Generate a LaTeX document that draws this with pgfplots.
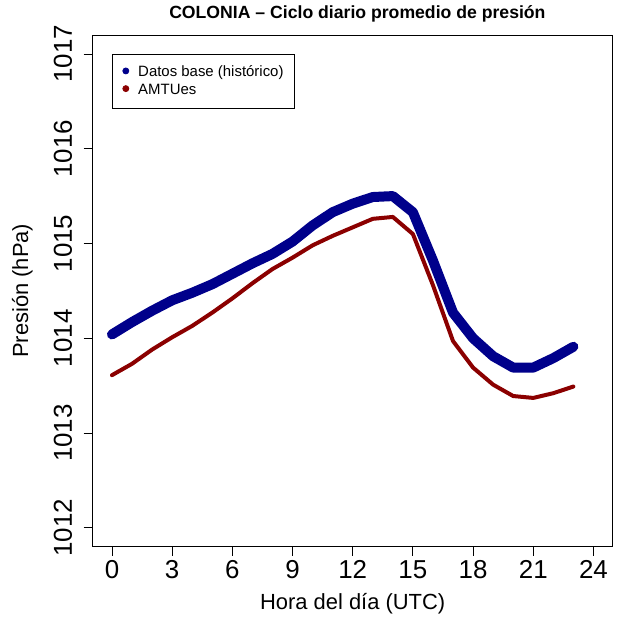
\documentclass[border=0pt]{standalone}
\usepackage{pgfplots}
\pgfplotsset{compat=1.18}
\usepackage{fontspec}
\setmainfont{Liberation Sans}
\definecolor{rblue}{HTML}{00008B}
\definecolor{rred}{HTML}{8B0000}
\begin{document}
\begin{tikzpicture}
\begin{axis}[
  scale only axis, width=520bp, height=511.7bp,
  xmin=-0.96, xmax=24.96, ymin=1011.8, ymax=1017.2,
  xtick={0,3,...,24}, ytick={1012,1013,...,1017},
  /pgf/number format/assume math mode=true,
  /pgf/number format/1000 sep={},
  tick align=outside, xtick pos=bottom, ytick pos=left,
  major tick length=9bp,
  axis line style={line width=0.8bp},
  every tick/.style={line width=0.8bp, black},
  ticklabel style={font=\fontsize{26}{30}\selectfont},
  yticklabel style={rotate=90, anchor=base},
  xticklabel style={anchor=base},
  yticklabel shift=11.7bp,
  xticklabel shift=23.3bp,
  title={\bfseries COLONIA -- Ciclo diario promedio de presión},
  title style={font=\fontsize{17.7}{21}\selectfont, at={(axis description cs:0.509,1.0215)}, anchor=base},
  xlabel={Hora del día (UTC)},
  ylabel={Presión (hPa)},
  label style={font=\fontsize{22}{26}\selectfont},
  xlabel style={at={(axis description cs:0.5,-0.1218)}, anchor=base},
  ylabel style={at={(axis description cs:-0.1244,0.5)}, anchor=base},
  legend style={at={(axis description cs:0.0362,0.9628)}, anchor=north west,
    draw=black, line width=0.8bp, font=\fontsize{15}{18}\selectfont,
    inner xsep=10.5bp, inner ysep=11bp,
    nodes={inner sep=0pt, text height=11bp, text depth=3bp},
    row sep=3.7bp,
    /tikz/every odd column/.append style={column sep=9bp}},
  legend cell align=left,
]
\addlegendimage{legend image code/.code={\fill[rblue] (3bp,1.5bp) circle (3bp);}}
\addlegendentry{Datos base (histórico)}
\addlegendimage{legend image code/.code={\fill[rred] (3bp,1.5bp) circle (3bp);}}
\addlegendentry{AMTUes}
\addplot[rblue, line width=10bp, line cap=round, line join=round, forget plot] coordinates {
(0,1014.04) (1,1014.17) (2,1014.29) (3,1014.40) (4,1014.48) (5,1014.57)
(6,1014.68) (7,1014.79) (8,1014.89) (9,1015.02) (10,1015.19) (11,1015.33)
(12,1015.42) (13,1015.49) (14,1015.50) (15,1015.33) (16,1014.82) (17,1014.27)
(18,1014.00) (19,1013.81) (20,1013.69) (21,1013.69) (22,1013.79) (23,1013.91)};
\addplot[rred, line width=4bp, line cap=round, line join=round, forget plot] coordinates {
(0,1013.61) (1,1013.73) (2,1013.88) (3,1014.01) (4,1014.13) (5,1014.27)
(6,1014.42) (7,1014.58) (8,1014.73) (9,1014.85) (10,1014.98) (11,1015.08)
(12,1015.17) (13,1015.26) (14,1015.28) (15,1015.10) (16,1014.56) (17,1013.97)
(18,1013.69) (19,1013.51) (20,1013.39) (21,1013.37) (22,1013.42) (23,1013.49)};
\end{axis}
\pgfresetboundingbox
\useasboundingbox ([shift={(-92.7bp,-70.3bp)}]current axis.south west) rectangle ([shift={(6.3bp,35bp)}]current axis.north east);
\end{tikzpicture}
\end{document}
